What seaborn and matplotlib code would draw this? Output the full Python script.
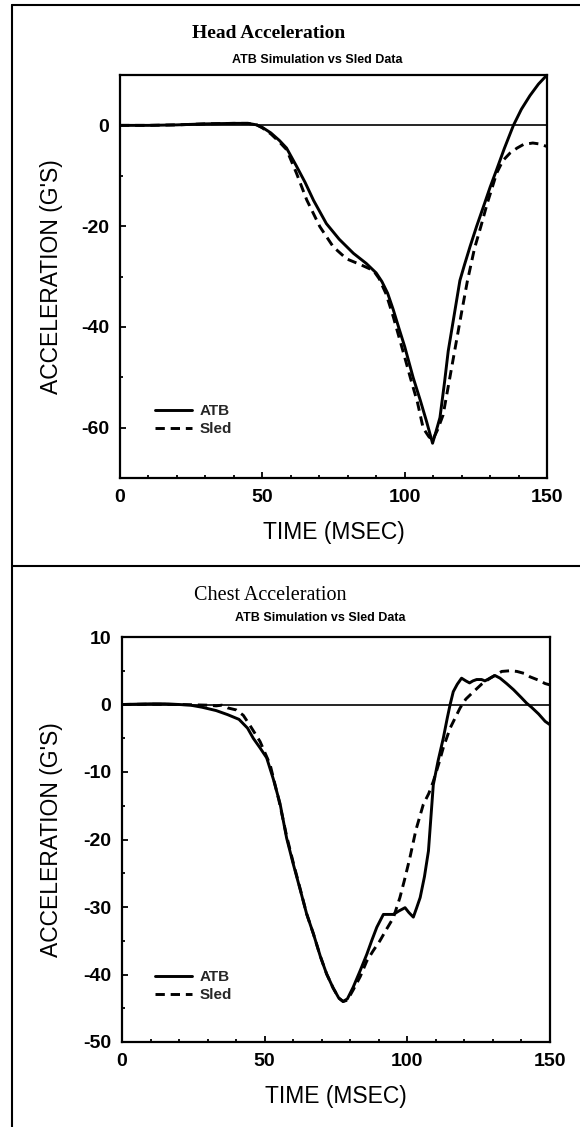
import numpy as np
import pandas as pd
import matplotlib
matplotlib.use("Agg")
import matplotlib.pyplot as plt
from matplotlib.lines import Line2D
from matplotlib.ticker import MultipleLocator, FixedLocator
import seaborn as sns

# ---------------- data ----------------
head_atb_t = [0, 10, 20, 30, 40, 45, 48, 50, 53, 56, 58.5, 62, 65, 68, 72.5, 77, 82, 86.5, 90, 92,
              94, 96, 98, 100, 103, 105.5, 107.7, 109.8, 111, 112.4, 114, 115.3, 117, 119.4, 121,
              123, 125.3, 128, 130, 132.3, 135, 138.2, 141, 144, 147, 150]
head_atb_a = [0, 0, 0.1, 0.3, 0.4, 0.4, 0.1, -0.4, -1.5, -3.0, -4.5, -8.1, -11.3, -14.9, -19.5,
              -22.6, -25.4, -27.4, -29.3, -31.0, -33.3, -36.6, -40.3, -43.9, -50.1, -54.6, -58.8,
              -63.1, -60.8, -58.0, -51.0, -44.8, -39.0, -30.8, -27.7, -24.0, -20.0, -15.6, -12.3,
              -8.8, -4.6, 0.0, 3.2, 5.9, 8.2, 10.0]

head_sled_t = [0, 10, 20, 30, 40, 45, 48, 50, 53, 56, 58.5, 62, 65.6, 70.2, 74.9, 79.6, 84.3, 89,
               91, 93.5, 96, 98, 100, 102, 104.5, 106.5, 108.5, 109.8, 111.5, 113.5, 116.5, 120,
               122, 124.5, 126.8, 129, 130.5, 132.3, 134.5, 137, 139.5, 141.7, 145, 147.5, 150]
head_sled_a = [0, 0, 0.1, 0.3, 0.4, 0.4, 0.1, -0.5, -1.7, -3.3, -4.8, -9.5, -14.8, -20.1, -24.1,
               -26.5, -27.6, -28.8, -30.4, -33.5, -38.0, -42.0, -46.0, -50.1, -55.0, -60.1, -61.8,
               -62.5, -60.5, -57.5, -48.1, -37.1, -31.0, -24.5, -20.0, -15.5, -12.8, -9.5, -7.0,
               -5.5, -4.5, -3.8, -3.5, -3.7, -4.2]

chest_atb_t = [0, 5, 10, 15, 20, 24, 28, 33, 37, 41, 44, 46, 48.5, 50.7, 53, 55.4, 57.7, 60, 62.5,
               64.7, 67.1, 69.5, 71.7, 74, 76, 77.5, 79, 81, 83.5, 85.8, 87.5, 89.3, 91.6, 93,
               95.1, 97, 99.2, 100.5, 102.1, 103.2, 104.5, 106, 107.4, 108.3, 109.1, 110.8, 112.6,
               114, 115, 116.1, 117.5, 119, 120.5, 121.8, 123, 124.3, 126, 127.2, 129, 130.7,
               132.5, 134.8, 137.2, 140, 141.8, 143.5, 146, 148.3, 150]
chest_atb_a = [0, 0.05, 0.1, 0.1, 0.0, -0.1, -0.4, -0.9, -1.5, -2.2, -3.5, -5.0, -6.5, -7.9, -11.0,
               -14.7, -19.8, -23.6, -27.5, -31.0, -34.0, -37.3, -39.9, -42.0, -43.5, -44.0, -43.6,
               -41.9, -39.4, -37.0, -35.0, -33.0, -31.1, -31.1, -31.1, -30.6, -30.1, -30.8, -31.5,
               -30.2, -28.6, -25.5, -21.7, -16.5, -11.9, -8.3, -5.0, -2.0, 0.0, 1.9, 3.0, 3.9,
               3.5, 3.2, 3.5, 3.7, 3.7, 3.5, 3.9, 4.3, 3.9, 3.1, 2.2, 1.0, 0.2, -0.4, -1.4, -2.5,
               -3.0]

chest_sled_t = [0, 10, 20, 25, 30, 33, 35, 37, 40, 42.5, 45, 48.4, 51.9, 55, 57.7, 60, 62.5, 64.7,
                67.1, 69.5, 71.7, 74, 76, 77.5, 79, 81, 83.5, 85.8, 88, 90.4, 92.7, 95.1, 97.4,
                99, 100.9, 103, 105.6, 107.5, 109.1, 111, 112.6, 115, 118.5, 120.5, 123.2, 126,
                129, 131, 133.1, 136, 138.4, 141, 143, 146, 148.3, 150]
chest_sled_a = [0, 0.05, 0.0, -0.05, -0.1, -0.2, -0.1, -0.5, -0.8, -1.6, -3.2, -5.5, -8.9, -14.2,
                -19.5, -23.4, -27.4, -31.0, -34.0, -37.3, -39.9, -42.0, -43.5, -44.0, -43.8,
                -42.3, -40.3, -38.0, -36.5, -35.0, -33.3, -31.6, -28.6, -26.0, -22.7, -18.6,
                -14.8, -13.2, -11.4, -8.8, -6.4, -3.5, -0.5, 0.8, 1.9, 3.0, 3.9, 4.4, 4.9, 5.0,
                4.9, 4.6, 4.1, 3.6, 3.1, 2.9]

series_labels = ["ATB", "Sled"]
x_ticks = [0, 50, 100, 150]
x_tick_labels = ["0", "50", "100", "150"]
head_y_ticks = [-60, -40, -20, 0]
head_y_tick_labels = ["-60", "-40", "-20", "0"]
chest_y_ticks = [-50, -40, -30, -20, -10, 0, 10]
chest_y_tick_labels = ["-50", "-40", "-30", "-20", "-10", "0", "10"]

head_title = "Head Acceleration"
chest_title = "Chest Acceleration"
subtitle = "ATB Simulation vs Sled Data"
x_label = "TIME (MSEC)"
y_label = "ACCELERATION (G'S)"

# ---------------- style ----------------
sns.set_theme(style="ticks")
plt.rcParams['font.family'] = ['Liberation Sans', 'DejaVu Sans']
plt.rcParams['axes.unicode_minus'] = False

W, H = 580, 1127
fig = plt.figure(figsize=(W / 100, H / 100), dpi=100)
fig.patch.set_facecolor('white')


def ax_at(l, t, r, b):
    return fig.add_axes([l / W, 1 - b / H, (r - l) / W, (b - t) / H])


def draw_panel(ax, atb_t, atb_a, sled_t, sled_a, ylim, yticks, ytlabels, yminor,
               xlab_y, ylab_x, leg_x, leg_y):
    ax.set_facecolor('white')
    ax.axhline(0, color='black', lw=1.2, zorder=1)
    sns.lineplot(x=atb_t, y=atb_a, ax=ax, color='black', lw=2.1, sort=False,
                 estimator=None, legend=False)
    l1 = ax.lines[-1]
    sns.lineplot(x=sled_t, y=sled_a, ax=ax, color='black', lw=2.1, sort=False,
                 estimator=None, linestyle=(0, (3.2, 2)), legend=False)
    l2 = ax.lines[-1]
    ax.set_xlim(0, 150)
    ax.set_ylim(*ylim)
    for s in ax.spines.values():
        s.set_visible(True)
        s.set_linewidth(1.6)
        s.set_color('black')
    ax.set_xticks(x_ticks, labels=x_tick_labels, fontweight='bold')
    ax.set_yticks(yticks, labels=ytlabels, fontweight='bold')
    ax.xaxis.set_minor_locator(MultipleLocator(10))
    ax.yaxis.set_minor_locator(MultipleLocator(yminor))
    ax.tick_params(which='both', direction='in', top=False, right=False,
                   color='black', width=1.3)
    ax.tick_params(which='major', length=4, pad=8, labelsize=14, labelcolor='black')
    ax.tick_params(which='minor', length=2.5)
    ax.set_xlabel(x_label, fontsize=16.5, color='black', va='center')
    ax.xaxis.set_label_coords(0.5, xlab_y)
    ax.set_ylabel(y_label, fontsize=16.5, color='black', va='center')
    ax.yaxis.set_label_coords(ylab_x, 0.5)
    ax.grid(False)
    ax.legend(handles=[l1, l2], labels=series_labels, loc='center left',
              bbox_to_anchor=(leg_x, leg_y), frameon=False, handlelength=2.4,
              handletextpad=0.5, labelspacing=0.25, borderpad=0, borderaxespad=0,
              prop={'weight': 'bold', 'size': 11})


ax1 = ax_at(120, 75, 547, 478)
draw_panel(ax1, head_atb_t, head_atb_a, head_sled_t, head_sled_a, (-70, 10),
           head_y_ticks, head_y_tick_labels, 10,
           (478 - 532) / 403, (52 - 120) / 427, (155 - 120) / 427, (478 - 420) / 403)

ax2 = ax_at(122, 637, 550, 1042)
draw_panel(ax2, chest_atb_t, chest_atb_a, chest_sled_t, chest_sled_a, (-50, 10),
           chest_y_ticks, chest_y_tick_labels, 5,
           (1042 - 1096) / 405, (52 - 122) / 428, (155 - 122) / 428, (1042 - 986) / 405)

# titles
serif = ['Liberation Serif', 'DejaVu Serif']
fig.text(269 / W, 1 - 33 / H, head_title, ha='center', va='center', fontsize=14,
         family=serif, fontweight='bold', color='black')
fig.text(317 / W, 1 - 60 / H, subtitle, ha='center', va='center', fontsize=9,
         fontweight='bold', color='black')
fig.text(270 / W, 1 - 595 / H, chest_title, ha='center', va='center', fontsize=14.5,
         family=serif, color='black')
fig.text(320 / W, 1 - 618 / H, subtitle, ha='center', va='center', fontsize=9,
         fontweight='bold', color='black')

# page frame lines
bx = 12 / W
fig.add_artist(Line2D([bx, bx], [0, 1 - 5 / H], transform=fig.transFigure, color='black', lw=1.5))
fig.add_artist(Line2D([bx, 1], [1 - 5 / H, 1 - 5 / H], transform=fig.transFigure, color='black', lw=1.5))
fig.add_artist(Line2D([bx, 1], [1 - 566 / H, 1 - 566 / H], transform=fig.transFigure, color='black', lw=1.5))

fig.savefig("out.png", dpi=100, facecolor='white')
